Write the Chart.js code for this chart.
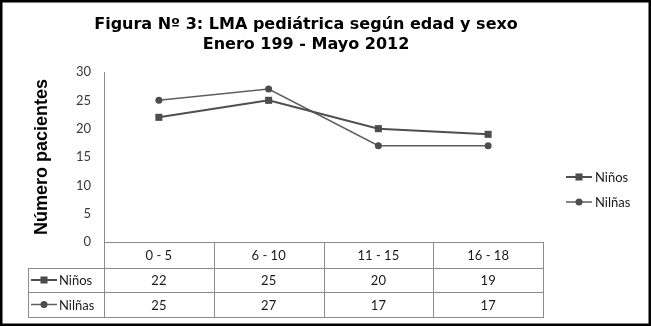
<!DOCTYPE html>
<html>
<head>
<meta charset="utf-8">
<script src="https://cdn.jsdelivr.net/npm/chart.js@4"></script>
<style>
  html, body { margin: 0; padding: 0; background: #fff; }
  #wrap { width: 651px; height: 326px; }
</style>
</head>
<body>
<div id="wrap"><canvas id="chart" width="651" height="326"></canvas></div>
<script>
// Datos
const categories = ["0 - 5", "6 - 10", "11 - 15", "16 - 18"];
const seriesNames = ["Niños", "Nilñas"];
const ninos = [22, 25, 20, 19];
const ninas = [25, 27, 17, 17];
const yTicks = [0, 5, 10, 15, 20, 25, 30];

const lineColor = ["#4f4f4f", "#5e5e5e"];
const markerStyle = ["rect", "circle"];
const tableFont = "13px Lato";
const gridColor = "#8c8c8c";

// draws a little line + marker symbol like the legend keys
function drawKey(ctx, i, x, y) {
    ctx.save();
    ctx.strokeStyle = lineColor[i];
    ctx.lineWidth = i === 0 ? 2 : 1.5;
    ctx.beginPath();
    ctx.moveTo(x, y);
    ctx.lineTo(x + 26, y);
    ctx.stroke();
    ctx.fillStyle = "#4d4d4d";
    Chart.helpers.drawPoint(ctx, { pointStyle: markerStyle[i], radius: i === 0 ? 5 : 3.5, rotation: 0, borderWidth: 0 }, x + 13, y);
    ctx.restore();
}

/* TABLE + LEGEND + FRAME */
const tablePlugin = {
    id: "dataTable",
    afterDraw(chart) {
        const { ctx, chartArea, scales } = chart;
        const x = scales.x;
        const values = [ninos, ninas];
        const rowTop = chartArea.bottom + 26;
        const rowH = [24, 25];
        const tableLeft = 28;

        // boundaries between columns
        const bounds = [chartArea.left];
        for (let i = 0; i < categories.length - 1; i++) {
            bounds.push((x.getPixelForTick(i) + x.getPixelForTick(i + 1)) / 2);
        }
        bounds.push(chartArea.right);

        ctx.save();
        ctx.strokeStyle = gridColor;
        ctx.lineWidth = 1;
        const bottom = rowTop + rowH[0] + rowH[1];
        ctx.beginPath();
        bounds.forEach(b => {
            const bx = Math.round(b) + 0.5;
            ctx.moveTo(bx, chartArea.bottom);
            ctx.lineTo(bx, bottom);
        });
        ctx.moveTo(tableLeft + 0.5, rowTop);
        ctx.lineTo(tableLeft + 0.5, bottom);
        let yy = rowTop;
        [0, rowH[0], rowH[1]].forEach(h => {
            yy += h;
            ctx.moveTo(tableLeft, Math.round(yy) + 0.5);
            ctx.lineTo(chartArea.right + 1, Math.round(yy) + 0.5);
        });
        ctx.stroke();

        // cells
        ctx.font = tableFont;
        ctx.fillStyle = "#1a1a1a";
        ctx.textBaseline = "middle";
        let top = rowTop;
        values.forEach((row, r) => {
            const cy = top + rowH[r] / 2 + 1;
            ctx.textAlign = "center";
            row.forEach((v, i) => ctx.fillText(String(v), x.getPixelForTick(i), cy));
            ctx.textAlign = "left";
            drawKey(ctx, r, tableLeft + 3, cy - 1);
            ctx.fillStyle = "#1a1a1a";
            ctx.fillText(seriesNames[r], tableLeft + 31, cy);
            top += rowH[r];
        });

        // legend on the right
        const legY = [177, 202];
        seriesNames.forEach((name, i) => {
            drawKey(ctx, i, 566, legY[i]);
            ctx.fillStyle = "#1a1a1a";
            ctx.textAlign = "left";
            ctx.fillText(name, 595, legY[i] + 1);
        });

        // black frame round the figure
        ctx.strokeStyle = "#000";
        ctx.lineWidth = 5;
        ctx.strokeRect(0, 0, chart.width, chart.height);
        ctx.restore();
    }
};

const ctx = document.getElementById("chart");

new Chart(ctx, {
    type: "line",
    data: {
        labels: categories,
        datasets: [
            {
                label: seriesNames[0],
                data: ninos,
                borderColor: lineColor[0],
                borderWidth: 2,
                pointStyle: markerStyle[0],
                pointRadius: 5,
                pointBackgroundColor: "#4d4d4d",
                pointBorderWidth: 0,
                tension: 0
            },
            {
                label: seriesNames[1],
                data: ninas,
                borderColor: lineColor[1],
                borderWidth: 1.5,
                pointStyle: markerStyle[1],
                pointRadius: 3.5,
                pointBackgroundColor: "#4d4d4d",
                pointBorderWidth: 0,
                tension: 0
            }
        ]
    },
    options: {
        responsive: false,
        animation: false,
        layout: { padding: { left: 0, right: 39, top: 10, bottom: 58 } },
        plugins: {
            legend: { display: false },
            tooltip: { enabled: false },
            title: {
                display: true,
                text: ["Figura Nº 3: LMA pediátrica según edad y sexo", "Enero 199 - Mayo 2012"],
                color: "#000",
                font: { family: "DejaVu Sans", size: 16, weight: "bold", lineHeight: 1.25 },
                padding: { top: 5, bottom: 17 }
            }
        },
        scales: {
            x: {
                offset: true,
                grid: { display: false, drawTicks: false },
                border: { display: true, color: gridColor },
                ticks: { color: "#1a1a1a", font: { family: "Lato", size: 13 }, padding: 6 },
                afterFit: s => { s.height = 26; }
            },
            y: {
                min: 0,
                max: 30,
                afterBuildTicks: s => { s.ticks = yTicks.map(v => ({ value: v })); },
                grid: { display: false, drawTicks: false },
                border: { display: true, color: gridColor },
                ticks: { color: "#3a3a3a", font: { family: "Lato", size: 13 }, padding: 13 },
                title: {
                    display: true,
                    text: "Número pacientes",
                    color: "#000",
                    font: { family: "Liberation Sans", size: 18, weight: "bold", lineHeight: 1.2 },
                    padding: { top: 31, bottom: 0 }
                },
                afterFit: s => { s.width = 104; }
            },
            // empty axis on the right: keeps room for the legend
            side: {
                position: "right",
                min: 0,
                max: 30,
                grid: { display: false, drawTicks: false },
                border: { display: false },
                ticks: { display: false },
                afterFit: s => { s.width = 69; }
            }
        }
    },
    plugins: [tablePlugin]
});
</script>
</body>
</html>
